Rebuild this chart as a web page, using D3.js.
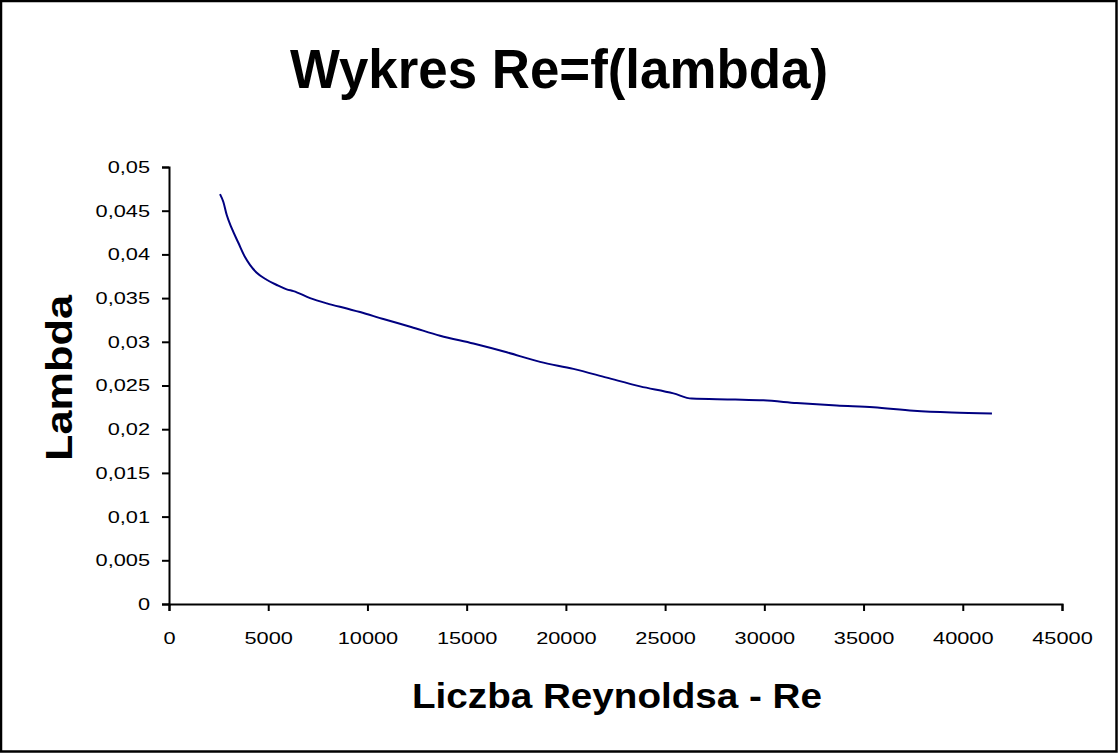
<!DOCTYPE html>
<html><head><meta charset="utf-8">
<script src="https://cdn.jsdelivr.net/npm/d3@7"></script>
<style>body{margin:0;background:#fff}svg{display:block}text{font-family:"Liberation Sans",Arial,sans-serif}</style>
</head><body>
<script>
const reynolds = [2570, 2740, 2910, 3160, 3500, 3830, 4080, 4420, 4920, 5430, 5930, 6270, 7110, 7950, 8960, 9630, 10800, 12200, 13660, 15340, 17020, 18700, 20380, 22060, 23740, 25420, 26340, 28530, 29950, 31630, 33650, 35500, 37520, 39450, 41470];
const lambda   = [0.0469, 0.0460, 0.0445, 0.0430, 0.0413, 0.0397, 0.0388, 0.0379, 0.0371, 0.0365, 0.0360, 0.0358, 0.0350, 0.0344, 0.0338, 0.0334, 0.0326, 0.0317, 0.0307, 0.0298, 0.0288, 0.0277, 0.0269, 0.0259, 0.0249, 0.0241, 0.0235, 0.0234, 0.0233, 0.0230, 0.0227, 0.0225, 0.0221, 0.0219, 0.0218];
const xTicks = [0, 5000, 10000, 15000, 20000, 25000, 30000, 35000, 40000, 45000];
const yTicks = [0, 0.005, 0.01, 0.015, 0.02, 0.025, 0.03, 0.035, 0.04, 0.045, 0.05];
const titleText = "Wykres Re=f(lambda)";
const xTitle = "Liczba Reynoldsa - Re";
const yTitle = "Lambda";

const W = 1118, H = 753;
const svg = d3.select("body").append("svg").attr("width", W).attr("height", H);
svg.append("rect").attr("x", 1).attr("y", 1).attr("width", W - 2.5).attr("height", H - 2.5)
  .attr("fill", "#fff").attr("stroke", "#000").attr("stroke-width", 2.5);

const x = d3.scaleLinear().domain([0, 45000]).range([169, 1062]);
const y = d3.scaleLinear().domain([0, 0.05]).range([604, 167]);
const fmtY = v => String(+v.toFixed(3)).replace(".", ",");

const stretch = (sel, k) => sel.each(function () {
  const L = this.getComputedTextLength();
  d3.select(this).attr("textLength", L * k).attr("lengthAdjust", "spacingAndGlyphs");
});

// X axis
const gx = svg.append("g").attr("transform", "translate(0,604)")
  .call(d3.axisBottom(x).tickValues(xTicks).tickSize(7).tickPadding(21).tickFormat(d => String(d)));
gx.select(".domain").attr("stroke", "#000").attr("stroke-width", 2);
gx.selectAll(".tick line").attr("stroke", "#000").attr("stroke-width", 2);
gx.selectAll(".tick text").attr("font-size", 17).attr("fill", "#000")
  .attr("font-family", "'Liberation Sans', Arial, sans-serif").call(stretch, 1.28);

// Y axis
const gy = svg.append("g").attr("transform", "translate(169,0)")
  .call(d3.axisLeft(y).tickValues(yTicks).tickSize(7).tickPadding(12).tickFormat(fmtY));
gy.select(".domain").attr("stroke", "#000").attr("stroke-width", 2);
gy.selectAll(".tick line").attr("stroke", "#000").attr("stroke-width", 2);
gy.selectAll(".tick text").attr("font-size", 17).attr("fill", "#000")
  .attr("font-family", "'Liberation Sans', Arial, sans-serif").call(stretch, 1.28);

// Line
const pts = reynolds.map((r, i) => [r, lambda[i]]);
svg.append("path").datum(pts)
  .attr("fill", "none").attr("stroke", "#000080").attr("stroke-width", 2)
  .attr("d", d3.line().x(d => x(d[0])).y(d => y(d[1])).curve(d3.curveMonotoneX));

// Titles
svg.append("text").attr("x", 559).attr("y", 88).attr("text-anchor", "middle")
  .attr("font-size", 56).attr("font-weight", "bold").attr("textLength", 538)
  .attr("lengthAdjust", "spacingAndGlyphs").text(titleText);
svg.append("text").attr("x", 617).attr("y", 708).attr("text-anchor", "middle")
  .attr("font-size", 35).attr("font-weight", "bold").attr("textLength", 410)
  .attr("lengthAdjust", "spacingAndGlyphs").text(xTitle);
svg.append("text").attr("transform", "translate(72,378) rotate(-90)").attr("text-anchor", "middle")
  .attr("font-size", 36).attr("font-weight", "bold").attr("textLength", 166)
  .attr("lengthAdjust", "spacingAndGlyphs").text(yTitle);
</script>
</body></html>
